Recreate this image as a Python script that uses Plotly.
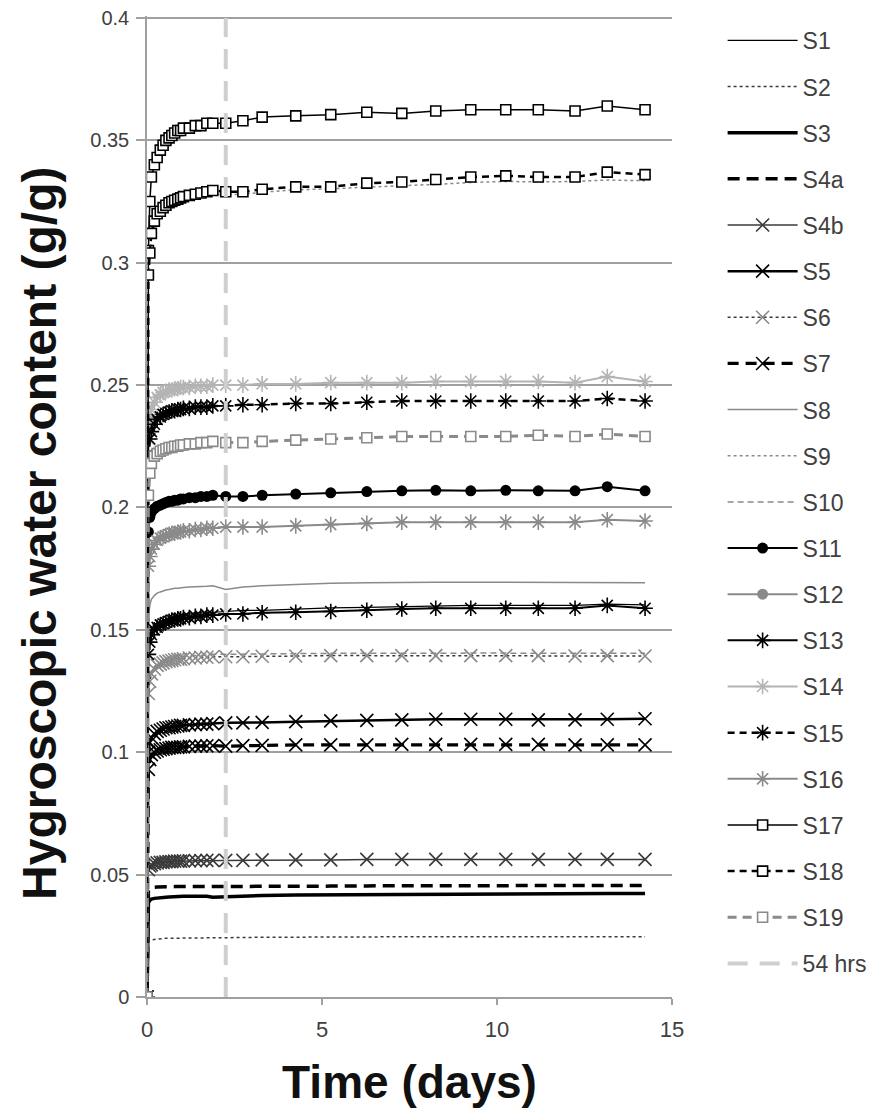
import plotly.graph_objects as go

# ---------------- data ----------------
time_days = [0, 0.04, 0.08, 0.125, 0.21, 0.29, 0.38, 0.46, 0.54, 0.63, 0.71, 0.79, 0.88, 0.96,
             1.04, 1.21, 1.38, 1.54, 1.71, 1.88, 2.25, 2.74, 3.29, 4.25, 5.25, 6.28, 7.28,
             8.25, 9.25, 10.25, 11.18, 12.23, 13.15, 14.23]

S1 = [0, 0.143, 0.148, 0.150, 0.152, 0.153, 0.1535, 0.154, 0.1545, 0.155, 0.155, 0.1555, 0.1555, 0.156,
      0.156, 0.1565, 0.1565, 0.157, 0.157, 0.1572, 0.1575, 0.158, 0.158, 0.1585, 0.159, 0.1592, 0.1595,
      0.1598, 0.160, 0.160, 0.160, 0.160, 0.1605, 0.1602]
S2 = [0, 0.0225, 0.023, 0.0233, 0.0235, 0.0237, 0.0238, 0.0239, 0.024, 0.024, 0.024, 0.0241, 0.0241, 0.0241,
      0.0242, 0.0242, 0.0242, 0.0243, 0.0243, 0.0243, 0.0240, 0.0243, 0.0244, 0.0245, 0.0245, 0.0246, 0.0246,
      0.0246, 0.0246, 0.0246, 0.0245, 0.0245, 0.0246, 0.0246]
S3 = [0, 0.0385, 0.0395, 0.0400, 0.0403, 0.0405, 0.0406, 0.0407, 0.0408, 0.0409, 0.0410, 0.0410, 0.0411, 0.0411,
      0.0412, 0.0412, 0.0413, 0.0413, 0.0412, 0.0408, 0.0410, 0.0414, 0.0415, 0.0417, 0.0418, 0.0419, 0.0420,
      0.0421, 0.0421, 0.0422, 0.0422, 0.0422, 0.0423, 0.0423]
S4a = [0, 0.0435, 0.0443, 0.0446, 0.0448, 0.0449, 0.0450, 0.0450, 0.0450, 0.0451, 0.0451, 0.0451, 0.0451, 0.0451,
       0.0452, 0.0452, 0.0452, 0.0452, 0.0452, 0.0452, 0.0450, 0.0452, 0.0452, 0.0453, 0.0453, 0.0454, 0.0454,
       0.0455, 0.0455, 0.0455, 0.0455, 0.0455, 0.0456, 0.0456]
S4b = [0, 0.0520, 0.0535, 0.0540, 0.0545, 0.0548, 0.0550, 0.0550, 0.0552, 0.0553, 0.0553, 0.0555, 0.0555, 0.0555,
       0.0556, 0.0556, 0.0557, 0.0557, 0.0558, 0.0558, 0.0558, 0.0558, 0.0560, 0.0560, 0.0560, 0.0562, 0.0562,
       0.0562, 0.0562, 0.0562, 0.0562, 0.0562, 0.0562, 0.0562]
S5 = [0, 0.100, 0.104, 0.106, 0.1075, 0.1085, 0.109, 0.1095, 0.110, 0.110, 0.1103, 0.1105, 0.1107, 0.111,
      0.111, 0.1112, 0.1113, 0.1115, 0.1115, 0.1117, 0.112, 0.112, 0.1122, 0.1125, 0.1128, 0.113, 0.1132,
      0.1135, 0.1135, 0.1135, 0.1132, 0.1132, 0.1135, 0.1137]
S6 = [0, 0.124, 0.129, 0.132, 0.134, 0.1355, 0.136, 0.1365, 0.137, 0.1372, 0.1375, 0.1378, 0.138, 0.138,
      0.1382, 0.1385, 0.1385, 0.1388, 0.1388, 0.139, 0.139, 0.139, 0.1392, 0.1393, 0.1395, 0.1395, 0.1395,
      0.1395, 0.1395, 0.1395, 0.1395, 0.1393, 0.1395, 0.1393]
S7 = [0, 0.093, 0.097, 0.099, 0.100, 0.1005, 0.101, 0.1012, 0.1015, 0.1017, 0.102, 0.102, 0.102, 0.1022,
      0.1022, 0.1024, 0.1025, 0.1025, 0.1026, 0.1027, 0.1025, 0.1027, 0.1028, 0.103, 0.103, 0.103, 0.1032,
      0.1032, 0.1032, 0.1032, 0.1032, 0.103, 0.103, 0.103]
S8 = [0, 0.155, 0.160, 0.1625, 0.164, 0.165, 0.1655, 0.166, 0.1663, 0.1665, 0.1668, 0.167, 0.167, 0.1672,
      0.1673, 0.1675, 0.1675, 0.1677, 0.1678, 0.168, 0.1665, 0.1675, 0.168, 0.1685, 0.169, 0.1692, 0.1695,
      0.1695, 0.1695, 0.1695, 0.1693, 0.1692, 0.1692, 0.1692]
S9 = [0, 0.293, 0.302, 0.310, 0.315, 0.318, 0.3195, 0.321, 0.322, 0.323, 0.3235, 0.324, 0.3245, 0.325,
      0.3255, 0.326, 0.3265, 0.327, 0.3275, 0.328, 0.3278, 0.328, 0.3288, 0.3298, 0.3302, 0.331, 0.3315,
      0.332, 0.3328, 0.3332, 0.333, 0.3332, 0.3338, 0.3335]
S10 = [0, 0.126, 0.130, 0.133, 0.135, 0.136, 0.1368, 0.1373, 0.1378, 0.138, 0.1383, 0.1385, 0.1388, 0.139,
       0.139, 0.1393, 0.1395, 0.1395, 0.1398, 0.14, 0.14, 0.14, 0.1402, 0.1403, 0.1404, 0.1405, 0.1405,
       0.1405, 0.1405, 0.1405, 0.1404, 0.1404, 0.1405, 0.1404]
S11 = [0, 0.190, 0.196, 0.198, 0.1995, 0.2005, 0.201, 0.2015, 0.202, 0.2025, 0.2025, 0.203, 0.203, 0.2035,
       0.2035, 0.204, 0.204, 0.2045, 0.2045, 0.205, 0.2045, 0.2045, 0.205, 0.2055, 0.206, 0.2065, 0.2068,
       0.207, 0.2068, 0.207, 0.2068, 0.2068, 0.2085, 0.2068]
S12_days = [0]
S12 = [0]
S13 = [0, 0.140, 0.145, 0.148, 0.150, 0.151, 0.152, 0.1525, 0.153, 0.1535, 0.154, 0.154, 0.1545, 0.1545,
       0.155, 0.155, 0.1555, 0.1555, 0.156, 0.156, 0.1565, 0.1565, 0.157, 0.1572, 0.1575, 0.158, 0.1585,
       0.1588, 0.1588, 0.1588, 0.1588, 0.1588, 0.160, 0.1588]
S14 = [0, 0.228, 0.236, 0.240, 0.243, 0.245, 0.246, 0.247, 0.2475, 0.248, 0.248, 0.2485, 0.2485, 0.249,
       0.249, 0.249, 0.2495, 0.2495, 0.2495, 0.250, 0.250, 0.250, 0.2505, 0.2505, 0.251, 0.251, 0.251,
       0.2515, 0.2515, 0.2515, 0.2515, 0.251, 0.2535, 0.2515]
S15 = [0, 0.222, 0.228, 0.231, 0.234, 0.236, 0.237, 0.238, 0.2385, 0.239, 0.2395, 0.2395, 0.240, 0.240,
       0.2405, 0.2405, 0.241, 0.241, 0.241, 0.2415, 0.2415, 0.242, 0.242, 0.2425, 0.2425, 0.243, 0.2435,
       0.2435, 0.2435, 0.2435, 0.2435, 0.2435, 0.2445, 0.2435]
S16 = [0, 0.176, 0.180, 0.183, 0.185, 0.1865, 0.1875, 0.188, 0.1885, 0.189, 0.1895, 0.1895, 0.190, 0.190,
       0.1905, 0.1905, 0.191, 0.191, 0.1915, 0.1915, 0.192, 0.192, 0.192, 0.1925, 0.193, 0.1935, 0.194,
       0.194, 0.194, 0.194, 0.194, 0.194, 0.195, 0.1945]
S17 = [0, 0.305, 0.325, 0.335, 0.340, 0.343, 0.346, 0.348, 0.350, 0.351, 0.352, 0.353, 0.354, 0.354,
       0.355, 0.355, 0.356, 0.356, 0.357, 0.357, 0.357, 0.358, 0.3595, 0.360, 0.3605, 0.3615, 0.361,
       0.362, 0.3625, 0.3625, 0.3625, 0.362, 0.364, 0.3625]
S18 = [0, 0.295, 0.304, 0.312, 0.317, 0.320, 0.321, 0.3225, 0.3235, 0.3245, 0.325, 0.3255, 0.326, 0.3265,
       0.327, 0.3275, 0.328, 0.3285, 0.329, 0.3295, 0.329, 0.329, 0.330, 0.331, 0.331, 0.3325, 0.333,
       0.334, 0.335, 0.3355, 0.335, 0.335, 0.337, 0.336]
S19 = [0, 0.205, 0.214, 0.218, 0.221, 0.222, 0.223, 0.2235, 0.224, 0.2245, 0.2245, 0.225, 0.225, 0.2255,
       0.2255, 0.226, 0.226, 0.2265, 0.2265, 0.227, 0.2265, 0.2265, 0.227, 0.2275, 0.228, 0.2285, 0.229,
       0.229, 0.229, 0.229, 0.2295, 0.229, 0.230, 0.229]

cutoff_days = [2.25, 2.25]
cutoff_range = [0, 0.4]

y_tick_values = [0, 0.05, 0.1, 0.15, 0.2, 0.25, 0.3, 0.35, 0.4]
y_tick_labels = ["0", "0.05", "0.1", "0.15", "0.2", "0.25", "0.3", "0.35", "0.4"]
x_tick_values = [0, 5, 10, 15]
x_tick_labels = ["0", "5", "10", "15"]

# ---------------- styles ----------------
BLACK = "#000000"
DARK = "#3a3a3a"
MID = "#8a8a8a"
LIGHT = "#b4b4b4"

def xmark(c):
    return dict(symbol="x-thin-open", size=13, color=c, line=dict(color=c, width=1.6))

def star(c):
    return dict(symbol="asterisk-open", size=13, color=c, line=dict(color=c, width=1.6))

def sq(c):
    return dict(symbol="square", size=10, color="white", line=dict(color=c, width=1.6))

series = [
    ("S1", time_days, S1, dict(color=BLACK, width=1.2), None),
    ("S2", time_days, S2, dict(color=DARK, width=1.5, dash="dot"), None),
    ("S3", time_days, S3, dict(color=BLACK, width=3.5), None),
    ("S4a", time_days, S4a, dict(color=BLACK, width=3.5, dash="12px,7px"), None),
    ("S4b", time_days, S4b, dict(color=DARK, width=1.5), xmark(DARK)),
    ("S5", time_days, S5, dict(color=BLACK, width=2.5), xmark(BLACK)),
    ("S6", time_days, S6, dict(color=DARK, width=1.5, dash="dot"), xmark(MID)),
    ("S7", time_days, S7, dict(color=BLACK, width=3.2, dash="11px,7px"), xmark(BLACK)),
    ("S8", time_days, S8, dict(color=MID, width=1.5), None),
    ("S9", time_days, S9, dict(color=MID, width=1.5, dash="dot"), None),
    ("S10", time_days, S10, dict(color=MID, width=1.5, dash="6px,4px"), None),
    ("S11", time_days, S11, dict(color=BLACK, width=2), dict(symbol="circle", size=11, color=BLACK)),
    ("S12", S12_days, S12, dict(color=MID, width=2), dict(symbol="circle", size=11, color=MID)),
    ("S13", time_days, S13, dict(color=BLACK, width=2), star(BLACK)),
    ("S14", time_days, S14, dict(color=LIGHT, width=2), star(LIGHT)),
    ("S15", time_days, S15, dict(color=BLACK, width=2.5, dash="7px,5px"), star(BLACK)),
    ("S16", time_days, S16, dict(color=MID, width=2), star(MID)),
    ("S17", time_days, S17, dict(color=BLACK, width=1.5), sq(BLACK)),
    ("S18", time_days, S18, dict(color=BLACK, width=2.5, dash="7px,5px"), sq(BLACK)),
    ("S19", time_days, S19, dict(color=MID, width=3, dash="9px,6px"), sq(MID)),
]

fig = go.Figure()
for name, xs, ys, line, marker in series:
    if marker is None:
        fig.add_trace(go.Scatter(x=xs, y=ys, name=name, mode="lines", line=line,
                                 legendgroup=name))
    else:
        fig.add_trace(go.Scatter(x=xs, y=ys, name=name, mode="lines+markers", line=line,
                                 marker=marker, legendgroup=name))

fig.add_trace(go.Scatter(x=cutoff_days, y=cutoff_range, name="54 hrs", mode="lines",
                         line=dict(color="#cfcfcf", width=4, dash="20px,12px"),
                         legendgroup="54 hrs"))

GRID = "#a0a0a0"
FONT = "Liberation Sans, Arial, sans-serif"

fig.update_layout(
    width=877, height=1120,
    margin=dict(l=139, r=213, t=8, b=131, autoexpand=False),
    paper_bgcolor="white", plot_bgcolor="white",
    font=dict(family=FONT, color="#404040"),
    showlegend=True,
    legend=dict(
        x=1.0964, xanchor="left", y=0.997, yanchor="top",
        font=dict(family=FONT, size=23, color="#404040"),
        tracegroupgap=13.25, itemwidth=70, bgcolor="rgba(0,0,0,0)",
    ),
    xaxis=dict(
        range=[0, 15], tickvals=x_tick_values, ticktext=x_tick_labels, automargin=False,
        showgrid=False, zeroline=False, showline=True, linecolor=GRID, linewidth=1.5,
        ticks="outside", ticklen=6, tickcolor=GRID, tickwidth=1.5, ticklabelstandoff=6,
        tickfont=dict(size=22, color="#404040", family=FONT),
        title=dict(text="<b>Time (days)</b>", font=dict(size=46, color="#111111", family=FONT), standoff=25),
    ),
    yaxis=dict(
        range=[0, 0.4008], tickvals=y_tick_values, ticktext=y_tick_labels, automargin=False,
        showgrid=True, gridcolor=GRID, gridwidth=1.5, zeroline=False,
        showline=True, linecolor=GRID, linewidth=1.5, ticklabeloverflow="allow",
        ticks="outside", ticklen=9, tickcolor=GRID, tickwidth=1.5, ticklabelstandoff=3,
        tickfont=dict(size=20, color="#404040", family=FONT),
    ),
    annotations=[dict(
        text="<b>Hygroscopic water content (g/g)</b>", textangle=-90, showarrow=False,
        xref="paper", yref="paper", x=-0.2038, y=0.472, xanchor="center", yanchor="middle",
        font=dict(size=48, color="#111111", family=FONT),
    )],
)

fig.write_html("out.html")
